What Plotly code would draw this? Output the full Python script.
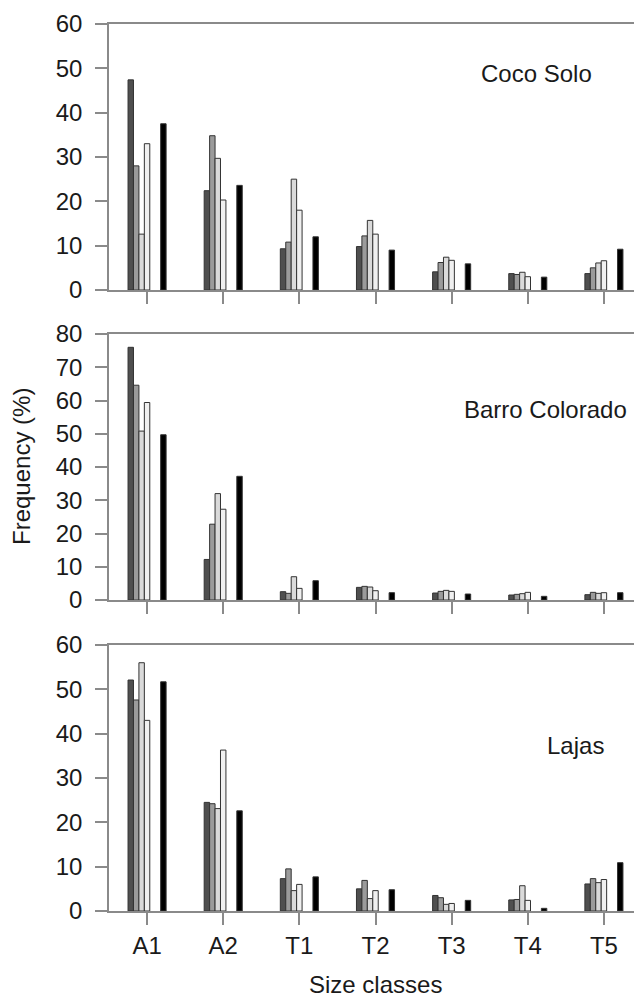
import plotly.graph_objects as go
from plotly.subplots import make_subplots

categories = ["A1", "A2", "T1", "T2", "T3", "T4", "T5"]
sites = ["Coco Solo", "Barro Colorado", "Lajas"]

# series per site: four grey series then black series
coco_s1 = [47.4, 22.4, 9.3, 9.8, 4.1, 3.7, 3.7]
coco_s2 = [28.0, 34.8, 10.8, 12.2, 6.2, 3.5, 5.0]
coco_s3 = [12.6, 29.7, 25.0, 15.7, 7.4, 4.0, 6.1]
coco_s4 = [33.0, 20.3, 18.0, 12.6, 6.7, 3.0, 6.6]
coco_s5 = [37.5, 23.6, 12.0, 9.0, 5.9, 2.9, 9.2]

barro_s1 = [76.0, 12.2, 2.5, 3.8, 2.1, 1.5, 1.6]
barro_s2 = [64.6, 22.8, 2.0, 4.1, 2.6, 1.7, 2.3]
barro_s3 = [50.8, 32.0, 7.0, 3.9, 2.9, 1.9, 2.0]
barro_s4 = [59.4, 27.3, 3.5, 2.8, 2.6, 2.3, 2.2]
barro_s5 = [49.7, 37.2, 5.8, 2.2, 1.8, 1.1, 2.2]

lajas_s1 = [52.1, 24.5, 7.3, 5.0, 3.5, 2.5, 6.1]
lajas_s2 = [47.6, 24.2, 9.5, 6.9, 3.0, 2.6, 7.3]
lajas_s3 = [56.0, 23.1, 4.6, 2.8, 1.5, 5.7, 6.4]
lajas_s4 = [43.0, 36.3, 6.0, 4.6, 1.7, 2.4, 7.1]
lajas_s5 = [51.7, 22.6, 7.7, 4.8, 2.4, 0.6, 10.9]

y_max = [60, 80, 60]

panels = [
    [coco_s1, coco_s2, coco_s3, coco_s4, coco_s5],
    [barro_s1, barro_s2, barro_s3, barro_s4, barro_s5],
    [lajas_s1, lajas_s2, lajas_s3, lajas_s4, lajas_s5],
]

fill_colors = ["#4f4f4f", "#9b9b9b", "#dadada", "#f0f0f0", "#000000"]
slot_index = [0, 1, 2, 3, 6]  # two empty slots before the black bar
n_slots = 7
group_w = 0.5
slot_w = group_w / n_slots

fig = make_subplots(rows=3, cols=1, shared_xaxes=False, vertical_spacing=0.05)

for r, series in enumerate(panels, start=1):
    for k, vals in enumerate(series):
        fig.add_trace(
            go.Bar(
                x=categories,
                y=vals,
                offset=-group_w / 2 + slot_index[k] * slot_w,
                width=slot_w,
                marker=dict(color=fill_colors[k],
                            line=dict(color="#333333", width=1)),
                showlegend=False,
                hoverinfo="x+y",
            ),
            row=r, col=1,
        )

# page body has an 8px default margin; size the figure to fit the window
PAGE = 8
W, H = 642 - PAGE, 1001 - PAGE
L, R, T, B = 109 - PAGE, 0, 24 - PAGE, 90
ph = H - T - B

def py(px):
    # px: y position in window pixels
    return (H - B - (px - PAGE)) / ph

def px_x(px):
    return (px - PAGE - L) / (W - L - R)

domains = [[py(290), 1.0], [py(600), py(334)], [0.0, py(645)]]

font = dict(family="Liberation Sans, Arial, sans-serif", size=24, color="#1a1a1a")
axis_col = "#8a8a8a"

for i in range(3):
    xa = "xaxis" if i == 0 else f"xaxis{i+1}"
    ya = "yaxis" if i == 0 else f"yaxis{i+1}"
    fig.layout[xa].update(
        domain=[0, 1], range=[-0.5, 6.5], type="category",
        showline=True, linecolor=axis_col, linewidth=1.5, mirror=True,
        ticks="outside", ticklen=12, tickcolor=axis_col, tickwidth=1.5,
        showticklabels=(i == 2), showgrid=False, zeroline=False,
        tickfont=font, fixedrange=True,
    )
    fig.layout[ya].update(
        domain=domains[i], range=[0, y_max[i]], dtick=10,
        showline=True, linecolor=axis_col, linewidth=1.5,
        ticks="outside", ticklen=12, tickcolor=axis_col, tickwidth=1.5,
        ticklabelstandoff=8,
        showgrid=False, zeroline=False, tickfont=font, fixedrange=True,
    )

annotations = [
    dict(text="Coco Solo", x=px_x(536), y=py(73)),
    dict(text="Barro Colorado", x=px_x(545), y=py(410)),
    dict(text="Lajas", x=px_x(575), y=py(745)),
    dict(text="Size classes", x=px_x(375), y=py(984)),
    dict(text="Frequency (%)", x=px_x(22), y=py(467), textangle=-90),
]
for a in annotations:
    a.update(xref="paper", yref="paper", showarrow=False, font=font,
             xanchor="center", yanchor="middle")

fig.update_layout(
    width=W, height=H,
    margin=dict(l=L, r=R, t=T, b=B, autoexpand=False),
    paper_bgcolor="white", plot_bgcolor="white",
    barmode="overlay", font=font,
    annotations=annotations,
)

fig.write_html("out.html")
